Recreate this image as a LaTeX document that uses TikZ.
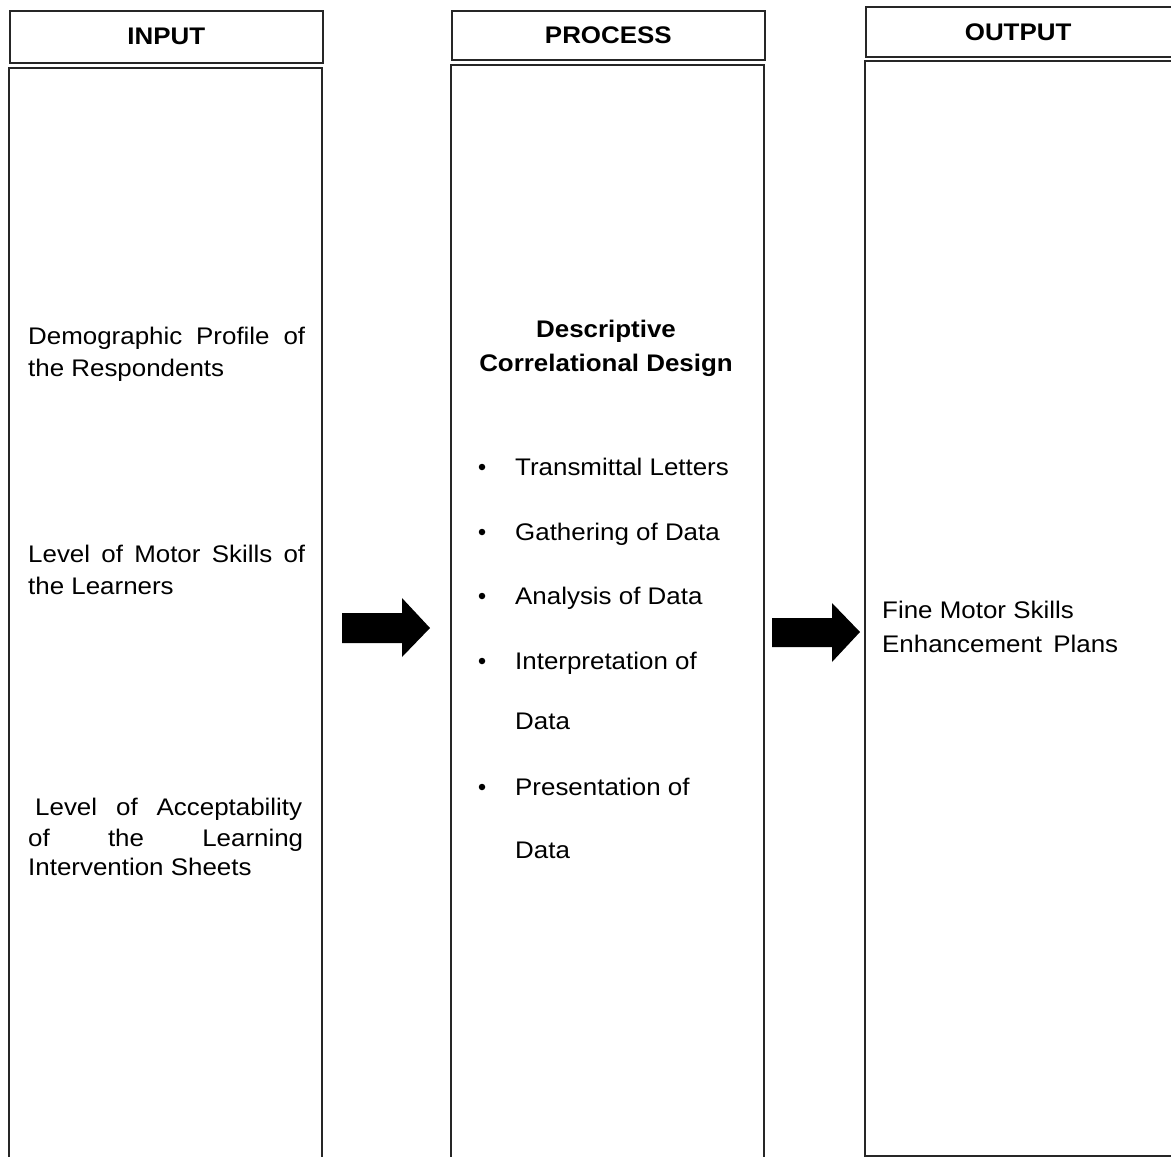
\documentclass[tikz,border=0pt]{standalone}
\usepackage{fontspec}
\setmainfont{Liberation Sans}[FakeStretch=1.08]
\newcommand\jbox[2]{\hbox to #1{#2}}
\begin{document}
\begin{tikzpicture}[x=1pt,y=-1pt,
  boxline/.style={draw=black!85, line width=1.7pt},
  hdr/.style={boxline, font=\fontsize{24}{28}\selectfont\bfseries, anchor=north west, inner sep=0pt},
  txt/.style={font=\fontsize{24}{28}\selectfont, anchor=base west, inner sep=0pt},
  btxt/.style={font=\fontsize{24}{28}\selectfont\bfseries, anchor=base, inner sep=0pt},
  bul/.style={circle, fill=black, inner sep=0pt, minimum size=6.5pt},
  bigarrow/.style={fill=black, draw=none}]
\useasboundingbox (0,0) rectangle (1171,1157);
% headers
\node[hdr, minimum width=313pt, minimum height=52pt] (inhdr) at (9,10) {INPUT};
\node[hdr, minimum width=313pt, minimum height=49pt] (prochdr) at (451,10) {PROCESS};
\node[hdr, minimum width=306pt, minimum height=50pt, text width=306pt, align=left] (outhdr) at (865,6) {\hspace*{99pt}OUTPUT};
% bodies
\draw[boxline] (9,1165) -- (9,68) -- (322,68) -- (322,1165);
\draw[boxline] (451,1165) -- (451,65) -- (764,65) -- (764,1165);
\draw[boxline] (1180,1156) -- (865,1156) -- (865,61) -- (1180,61);
% input texts
\node[txt] (i1a) at (28,344) {\jbox{277pt}{Demographic\hfill Profile\hfill of}};
\node[txt] (i1b) at (28,376) {the Respondents};
\node[txt] (i2a) at (28,562) {\jbox{277pt}{Level\hfill of\hfill Motor\hfill Skills\hfill of}};
\node[txt] (i2b) at (28,594) {the Learners};
\node[txt] (i3a) at (35,815) {\jbox{267pt}{Level\hfill of\hfill Acceptability}};
\node[txt] (i3b) at (28,846) {\jbox{275pt}{of\hfill the\hfill Learning}};
\node[txt] (i3c) at (28,875) {Intervention Sheets};
% process texts
\node[btxt] (p0a) at (606,337) {Descriptive};
\node[btxt] (p0b) at (606,371) {Correlational Design};
\node[bul] (b1) at (482,467) {};
\node[bul] (b2) at (482,532) {};
\node[bul] (b3) at (482,596) {};
\node[bul] (b4) at (482,661) {};
\node[bul] (b5) at (482,787) {};
\node[txt] (p1) at (515,475) {Transmittal Letters};
\node[txt] (p2) at (515,540) {Gathering of Data};
\node[txt] (p3) at (515,604) {Analysis of Data};
\node[txt] (p4a) at (515,669) {Interpretation of};
\node[txt] (p4b) at (515,729) {Data};
\node[txt] (p5a) at (515,795) {Presentation of};
\node[txt] (p5b) at (515,858) {Data};
% output texts
\node[txt] (o1) at (882,618) {Fine Motor Skills};
\node[txt] (o2) at (882,652) {Enhancement\hspace{4pt} Plans};
% arrows
\fill[bigarrow] (342,613) -- (402,613) -- (402,598) -- (430,628) -- (402,657) -- (402,643) -- (342,643) -- cycle;
\fill[bigarrow] (772,618) -- (832,618) -- (832,603) -- (860,632) -- (832,662) -- (832,647) -- (772,647) -- cycle;
\end{tikzpicture}
\end{document}
